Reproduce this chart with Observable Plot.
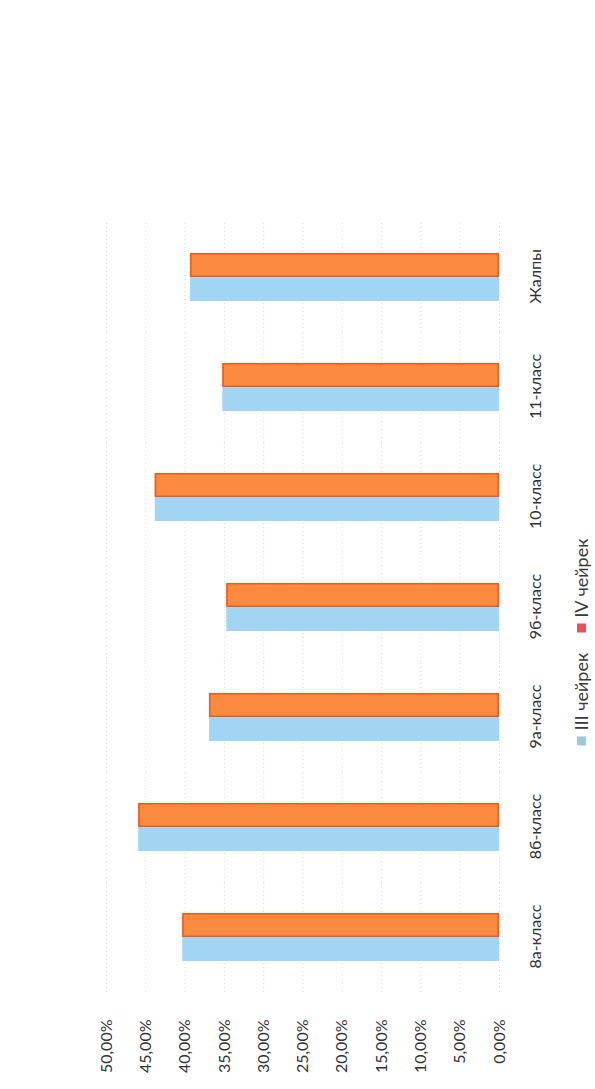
<!DOCTYPE html>
<html>
<head>
<meta charset="utf-8">
<script src="https://cdn.jsdelivr.net/npm/d3@7"></script>
<script src="https://cdn.jsdelivr.net/npm/@observablehq/plot@0.6"></script>
<style>
  html, body { margin: 0; padding: 0; background: #fff; overflow: hidden; }
  body { width: 595px; height: 1089px; position: relative; }
  #rot { position: absolute; left: 0; top: 1089px; width: 1089px; height: 595px;
         transform-origin: 0 0; transform: rotate(-90deg); background: #fff; }
  #legend { position: absolute; top: 570px; left: 447px; transform: translateX(-50%);
            display: flex; align-items: center; gap: 20px; font-family: Lato, sans-serif;
            font-size: 18px; color: #3a3a3a; white-space: nowrap; }
  #legend span.sw { display: inline-block; width: 9px; height: 9px; margin-right: 6px; }
  #legend .item { display: flex; align-items: center; }
</style>
</head>
<body>
<div id="rot"><div id="chart"></div><div id="legend"></div></div>
<script>
const categories = ["8а-класс", "8б-класс", "9а-класс", "9б-класс", "10-класс", "11-класс", "Жалпы"];
const series = ["III чейрек", "IV чейрек"];
const q3 = [40.3, 45.9, 36.9, 34.7, 43.8, 35.2, 39.3];
const q4 = [40.3, 45.9, 36.9, 34.7, 43.8, 35.2, 39.3];
const colors = ["#a2d5f3", "#fd8b3f"];
const swatches = ["#9cc9dc", "#e8505a"];

const data = categories.flatMap((c, i) => [
  {cat: c, s: series[0], v: q3[i]},
  {cat: c, s: series[1], v: q4[i]}
]);

const fmt = d => d.toFixed(2).replace(".", ",") + "%";

const chart = Plot.plot({
  width: 1089,
  height: 570,
  marginLeft: 97,
  marginRight: 222,
  marginTop: 106,
  marginBottom: 71,
  style: {fontFamily: "Lato, sans-serif", fontSize: "16px", color: "#333", background: "white"},
  fx: {domain: categories, padding: 0, label: null, axis: "bottom", tickSize: 0, tickPadding: 30},
  x: {domain: series, axis: null, paddingInner: 0, paddingOuter: 1.2},
  y: {domain: [0, 50], ticks: 10, tickFormat: fmt, tickSize: 0, tickPadding: 28, label: null},
  color: {domain: series, range: colors},
  marks: [
    Plot.gridY({ticks: 10, stroke: "#bdbdbd", strokeOpacity: 0.6, strokeDasharray: "1,3"}),
    Plot.barY(data, {fx: "cat", x: "s", y: "v", fill: "s"}),
    Plot.barY(data.filter(d => d.s === series[1]), {fx: "cat", x: "s", y: "v", fill: "none", stroke: "#f2581a", strokeWidth: 1.5, inset: 0.75})
  ]
});
document.getElementById("chart").appendChild(chart);

const legend = document.getElementById("legend");
series.forEach((s, i) => {
  const item = document.createElement("div");
  item.className = "item";
  const sw = document.createElement("span");
  sw.className = "sw";
  sw.style.background = swatches[i];
  item.appendChild(sw);
  item.appendChild(document.createTextNode(s));
  legend.appendChild(item);
});
</script>
</body>
</html>
